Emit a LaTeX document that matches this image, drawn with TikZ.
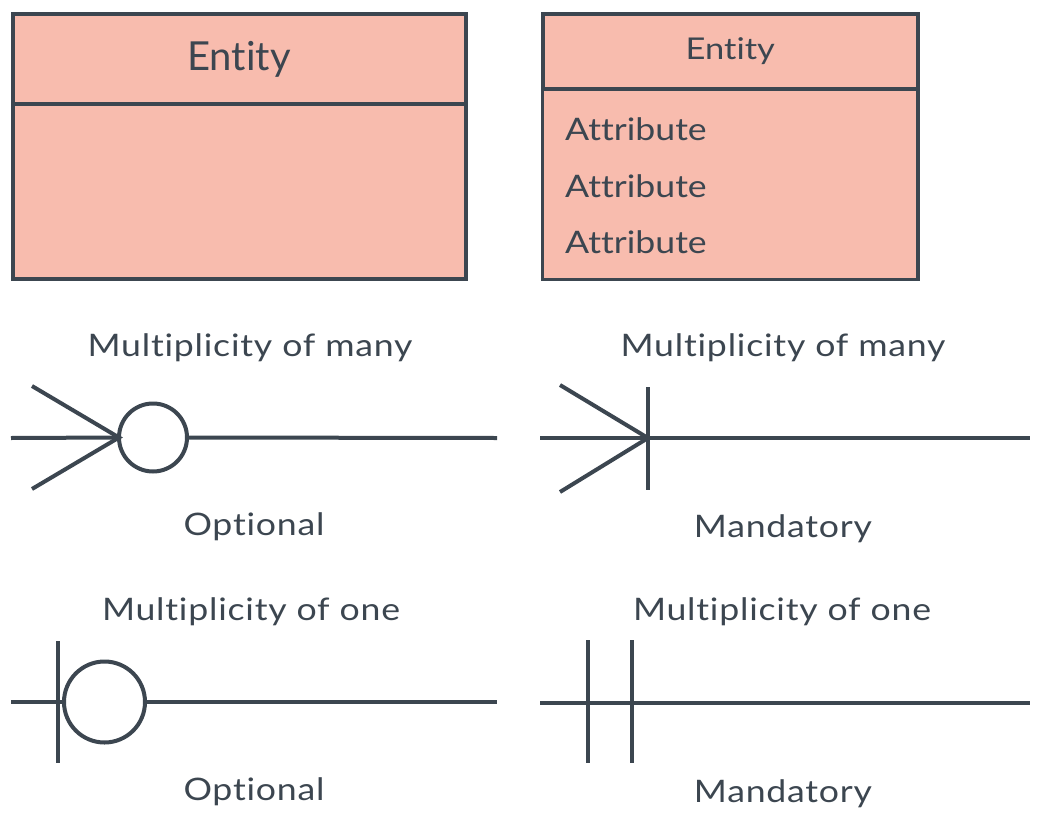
\documentclass[tikz,border=0pt]{standalone}
\usepackage{fontspec}
\setmainfont{Lato}[Ligatures=CommonOff]
\newfontfamily\erwidefont{Lato}[FakeStretch=1.15, Ligatures=CommonOff]
\newfontfamily\erlabelfont{Lato}[FakeStretch=1.15, LetterSpace=2.5, Ligatures=CommonOff]
\usepackage{tikz}
\usetikzlibrary{positioning}

\definecolor{erline}{HTML}{3C4650}
\definecolor{erfill}{HTML}{F8BCAE}

\tikzset{
    erbox/.style = {draw=erline, fill=erfill, line width=4pt, outer sep=0pt, inner sep=0pt},
    erlabel/.style = {anchor=base, text=erline, font=\erlabelfont\fontsize{31}{36}\selectfont},
    erattr/.style = {anchor=base west, inner sep=0pt, text=erline, font=\erwidefont\fontsize{31}{36}\selectfont},
    erlink/.style = {draw=erline, line width=4pt},
    optring/.style = {circle, draw=erline, fill=white, line width=4pt, inner sep=0pt, outer sep=0pt}
}

\begin{document}
\begin{tikzpicture}[x=1pt, y=-1pt]
\useasboundingbox (0,0) rectangle (1040,832);

% entity without attributes
\node [erbox,
    minimum width=453pt,
    minimum height=90.5pt,
    text=erline,
    font=\fontsize{40}{48}\selectfont
] (enthead) at (239,59.25) {Entity};

\node [erbox,
    minimum width=453pt,
    minimum height=174.5pt,
    below=0pt of enthead
] (entbody) {};

% entity with attributes
\node [erbox,
    minimum width=375.5pt,
    minimum height=75pt,
    text=erline,
    font=\erwidefont\fontsize{30}{36}\selectfont
] (attrhead) at (730.25,51.5) {Entity};

\node [erbox,
    line width=3.5pt,
    minimum width=375.5pt,
    minimum height=190.5pt,
    below=0pt of attrhead
] (attrbody) {};

\node [erattr] (attr1) at (565,140) {Attribute};
\node [erattr] (attr2) at (565,197) {Attribute};
\node [erattr] (attr3) at (565,253) {Attribute};

% many, optional
\node [erlabel] (manyoptlbl) at (250,356) {Multiplicity of many};
\node [optring, minimum size=68pt] (manyring) at (153,437.5) {};
\coordinate (manyoptA) at (11,438);
\coordinate (manyoptB) at (497,438);
\coordinate (manyoptC) at (32,386);
\coordinate (manyoptD) at (32,489);
\draw[erlink] (manyoptA) -- (manyring.west);
\draw[erlink] (manyring.east) -- (manyoptB);
\draw[erlink] (manyoptC) -- (manyring.west) -- (manyoptD);
\node [erlabel] (manyopttxt) at (254,535) {Optional};

% many, mandatory
\node [erlabel] (manymanlbl) at (783,356) {Multiplicity of many};
\coordinate (manymanA) at (540,438);
\coordinate (manymanB) at (1030,438);
\coordinate (manyapex) at (648,438);
\coordinate (manybarT) at (648,387);
\coordinate (manybarB) at (648,490);
\coordinate (manymanC) at (560,385);
\coordinate (manymanD) at (560,492);
\draw[erlink] (manymanA) -- (manymanB);
\draw[erlink] (manybarT) -- (manybarB);
\draw[erlink] (manymanC) -- (manyapex) -- (manymanD);
\node [erlabel] (manymantxt) at (783,537) {Mandatory};

% one, optional
\node [erlabel] (oneoptlbl) at (251,620) {Multiplicity of one};
\node [optring, minimum size=81pt] (onering) at (104.5,702) {};
\coordinate (oneoptA) at (11,702);
\coordinate (oneoptB) at (497,702);
\coordinate (onebarT) at (58,641);
\coordinate (onebarB) at (58,763);
\draw[erlink] (oneoptA) -- (onering.west);
\draw[erlink] (onering.east) -- (oneoptB);
\draw[erlink] (onebarT) -- (onebarB);
\node [erlabel] (oneopttxt) at (254,800) {Optional};

% one, mandatory
\node [erlabel] (onemanlbl) at (782,620) {Multiplicity of one};
\coordinate (onemanA) at (540,703);
\coordinate (onemanB) at (1030,703);
\coordinate (bar1T) at (588,640);
\coordinate (bar1B) at (588,763);
\coordinate (bar2T) at (632,640);
\coordinate (bar2B) at (632,763);
\draw[erlink] (onemanA) -- (onemanB);
\draw[erlink] (bar1T) -- (bar1B);
\draw[erlink] (bar2T) -- (bar2B);
\node [erlabel] (onemantxt) at (783,802) {Mandatory};

\end{tikzpicture}
\end{document}
